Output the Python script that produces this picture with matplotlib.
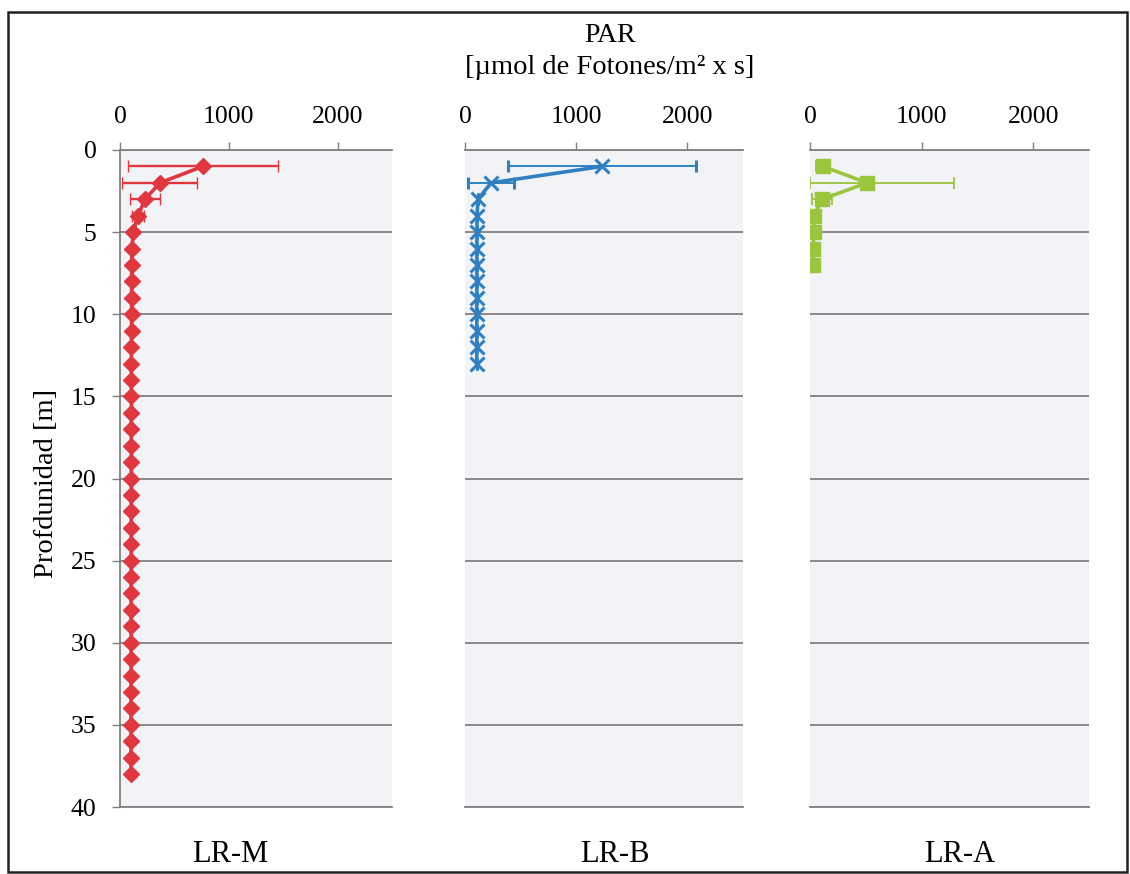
import matplotlib
matplotlib.use("Agg")
import matplotlib.pyplot as plt
from matplotlib.patches import Rectangle
from matplotlib import font_manager

available = {f.name for f in font_manager.fontManager.ttflist}
serif_choice = None
for cand in ['Liberation Serif', 'Times New Roman', 'Nimbus Roman', 'TeX Gyre Termes',
             'Noto Serif', 'DejaVu Serif']:
    if cand in available:
        serif_choice = cand
        break
plt.rcParams['font.family'] = [serif_choice or 'DejaVu Serif', 'DejaVu Serif']

# ---------------- data ----------------
m_depth = list(range(1, 39))
m_par = [760, 367, 230, 165, 120, 110, 108, 107, 107, 106,
         106, 105, 105, 105, 105, 104, 104, 104, 104, 104,
         103, 103, 103, 103, 103, 103, 102, 102, 102, 102,
         102, 102, 101, 101, 101, 101, 101, 101]
m_err = [690, 345, 138, 55, 15] + [0] * 33

b_depth = list(range(1, 14))
b_par = [1232, 234, 117, 108, 108, 107, 107, 107, 106, 106, 106, 106, 106]
b_err = [847, 207] + [0] * 11

a_depth = list(range(1, 8))
a_par = [117, 511, 108, 36, 36, 30, 30]
a_err_low = [60, 511, 90, 0, 0, 0, 0]
a_err_high = [60, 780, 90, 0, 0, 0, 0]

x_ticks = [0, 1000, 2000]
y_ticks = [0, 5, 10, 15, 20, 25, 30, 35, 40]
panel_names = ["LR-M", "LR-B", "LR-A"]

# ---------------- figure ----------------
W, H = 1130, 874
fig = plt.figure(figsize=(W / 100, H / 100), dpi=100)
fig.patch.set_facecolor('white')

grid_c = '#808080'
bg_c = '#f2f3f7'

def px_axes(left, right, top=150, bottom=807):
    return fig.add_axes([left / W, 1 - bottom / H, (right - left) / W, (bottom - top) / H])

ax1 = px_axes(120, 392)
ax2 = px_axes(465, 743)
ax3 = px_axes(810, 1089)
axes = [ax1, ax2, ax3]

for i, ax in enumerate(axes):
    ax.set_facecolor(bg_c)
    ax.set_xlim(0, 2500)
    ax.set_ylim(40, 0)
    ax.set_xticks(x_ticks)
    ax.set_yticks(y_ticks)
    ax.xaxis.tick_top()
    ax.tick_params(axis='x', direction='out', length=6, width=1, color=grid_c,
                   labelsize=18.5, pad=10)
    ax.yaxis.grid(True, color=grid_c, linewidth=1.3)
    ax.set_axisbelow(True)
    ax.spines['right'].set_visible(False)
    for s in ['top', 'bottom', 'left']:
        ax.spines[s].set_color(grid_c)
        ax.spines[s].set_linewidth(1.3)
    if i == 0:
        ax.tick_params(axis='y', direction='out', length=6, width=1, color=grid_c,
                       labelsize=18.5, pad=11)
    else:
        ax.spines['left'].set_visible(False)
        ax.tick_params(axis='y', left=False, labelleft=False)

red = '#e0363e'
blue = '#2f80c2'
green = '#9ac53c'

ax1.errorbar(m_par, m_depth, xerr=m_err, color=red, ecolor=red, elinewidth=1.7,
             capsize=4.5, capthick=1.7, linewidth=2.6, marker='D', markersize=8.5,
             markerfacecolor=red, markeredgecolor=red, markeredgewidth=1, zorder=3)

ax2.errorbar(b_par, b_depth, xerr=b_err, color=blue, ecolor=blue, elinewidth=1.4,
             capsize=4.5, capthick=1.4, linewidth=2.6, marker='x', markersize=10,
             markeredgewidth=2.2, zorder=3)

ax3.errorbar(a_par, a_depth, xerr=[a_err_low, a_err_high], color=green, ecolor=green,
             elinewidth=1.3, capsize=4, capthick=1.3, linewidth=2.6, marker='s',
             markersize=10.5, markerfacecolor=green, markeredgecolor=green, zorder=3)

# ---------------- texts ----------------
fig.text(610 / W, 1 - 36 / H, "PAR", ha='center', va='center', fontsize=20)
fig.text(610 / W, 1 - 67 / H, "[µmol de Fotones/m² x s]", ha='center', va='center',
         fontsize=20.5)
fig.text(47 / W, 1 - 483 / H, "Profdunidad [m]", ha='center', va='center',
         rotation=90, fontsize=20.5)

label_x = [230, 615, 960]
for name, lx in zip(panel_names, label_x):
    fig.text(lx / W, 1 - 855 / H, name, ha='center', va='center', fontsize=22)

# figure frame
fig.add_artist(Rectangle((8 / W, 1 - 872 / H), (1127 - 8) / W, (872 - 12) / H,
                         transform=fig.transFigure, fill=False, edgecolor='#222222',
                         linewidth=1.8))

fig.savefig("out.png", dpi=100)
